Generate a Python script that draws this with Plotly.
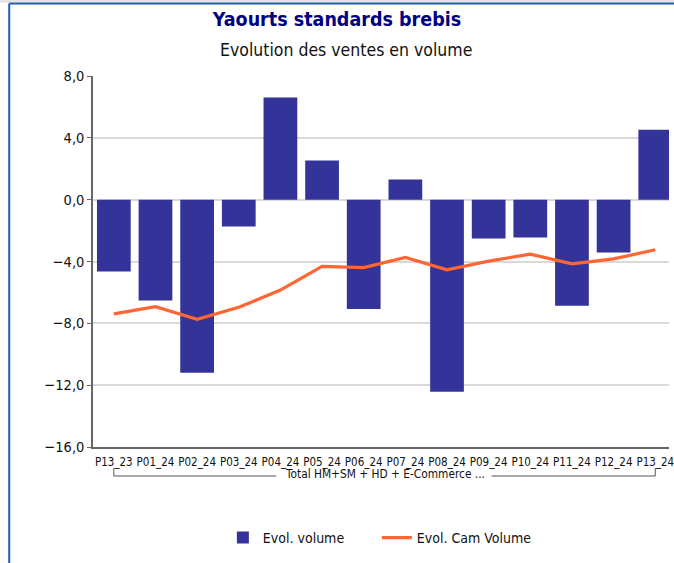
import plotly.graph_objects as go

categories = ["P13_23", "P01_24", "P02_24", "P03_24", "P04_24", "P05_24", "P06_24",
              "P07_24", "P08_24", "P09_24", "P10_24", "P11_24", "P12_24", "P13_24"]
evol_volume = [-4.65, -6.53, -11.2, -1.73, 6.61, 2.53, -7.07,
               1.30, -12.43, -2.51, -2.45, -6.86, -3.42, 4.52]
evol_cam_volume = [-7.39, -6.92, -7.74, -6.96, -5.85, -4.32, -4.39,
                   -3.74, -4.54, -3.98, -3.52, -4.15, -3.83, -3.24]
group_label = "Total HM+SM + HD + E-Commerce ..."
title_text = "Yaourts standards brebis"
subtitle_text = "Evolution des ventes en volume"
y_ticks = [-16, -12, -8, -4, 0, 4, 8]

FONT = "Tahoma, 'DejaVu Sans Condensed', 'Liberation Sans', sans-serif"

W, H = 674, 563
L, T, B = 93, 76, 116
plot_w = W - L
plot_h = H - T - B


def px_x(px):
    return (px - L) / plot_w


def px_y(py):
    return (H - B - py) / plot_h


fig = go.Figure()
fig.add_trace(go.Bar(
    x=list(range(len(categories))), y=evol_volume, name="Evol. volume",
    marker=dict(color="#333399", line=dict(width=0)),
))
fig.add_trace(go.Scatter(
    x=list(range(len(categories))), y=evol_cam_volume, name="Evol. Cam Volume",
    mode="lines", line=dict(color="#ff6633", width=3.2),
))

shapes = []
# light strip above the frame
shapes.append(dict(type="rect", xref="paper", yref="paper",
                   x0=px_x(-10), x1=px_x(700), y0=px_y(0), y1=px_y(2.5),
                   fillcolor="#e4e4e4", line=dict(width=0), layer="below"))
# outer chart frame (left + top, cut by the image edge)
shapes.append(dict(type="line", xref="paper", yref="paper",
                   x0=px_x(8.5), x1=px_x(8.5), y0=px_y(3.5), y1=px_y(600),
                   line=dict(color="#1f5fb0", width=2)))
shapes.append(dict(type="line", xref="paper", yref="paper",
                   x0=px_x(8.5), x1=px_x(700), y0=px_y(3.5), y1=px_y(3.5),
                   line=dict(color="#1f5fb0", width=2)))
# group bracket under category labels
yb = px_y(476)
yt = px_y(468)
shapes += [
    dict(type="line", xref="x", yref="paper", x0=0, x1=0, y0=yb, y1=yt,
         line=dict(color="#555555", width=1)),
    dict(type="line", xref="x", yref="paper", x0=0, x1=3.9, y0=yb, y1=yb,
         line=dict(color="#555555", width=1)),
    dict(type="line", xref="x", yref="paper", x0=9.07, x1=13, y0=yb, y1=yb,
         line=dict(color="#555555", width=1)),
    dict(type="line", xref="x", yref="paper", x0=13, x1=13, y0=yb, y1=yt,
         line=dict(color="#555555", width=1)),
]

annotations = [
    dict(text=subtitle_text, xref="paper", yref="paper", x=px_x(348), y=px_y(50),
         xanchor="center", yanchor="middle", showarrow=False,
         font=dict(family=FONT, size=17.5, color="#111111")),
    dict(text=group_label, xref="x", yref="paper", x=6.5, y=px_y(474.5),
         xanchor="center", yanchor="middle", showarrow=False,
         font=dict(family=FONT, size=11.8, color="#111111")),
]

fig.update_layout(
    width=W, height=H,
    margin=dict(l=L, r=0, t=T, b=B, pad=0),
    paper_bgcolor="white", plot_bgcolor="white",
    separators=", ",
    title=dict(text="<b>" + title_text + "</b>", x=337 / W,
               xref="container", xanchor="center", y=1 - 19.5 / H, yanchor="middle",
               font=dict(family=FONT, size=19.5, color="#000080")),
    bargap=0.19,
    showlegend=True,
    legend=dict(orientation="h", x=px_x(224), y=px_y(538), xanchor="left",
                yanchor="middle", font=dict(family=FONT, size=14, color="#111111"),
                itemwidth=30, entrywidth=109, entrywidthmode="pixels",
                tracegroupgap=0, bgcolor="rgba(0,0,0,0)"),
    shapes=shapes, annotations=annotations,
    font=dict(family=FONT, color="#111111"),
)
fig.update_xaxes(
    tickmode="array", tickvals=list(range(len(categories))), ticktext=categories,
    range=[-0.5, 13.33], showline=True, linecolor="#666666", linewidth=1.5,
    showgrid=False, zeroline=False, ticks="", tickangle=0,
    ticklabeloverflow="allow", ticklabelstandoff=3,
    tickfont=dict(family=FONT, size=11.5, color="#111111"),
)
fig.update_yaxes(
    range=[-16, 8], tickvals=y_ticks, tickformat=".1f",
    showline=True, linecolor="#666666", linewidth=1.5,
    showgrid=True, gridcolor="#d9d9d9", gridwidth=1.5, zeroline=False,
    ticks="outside", ticklen=4, tickcolor="#666666",
    tickfont=dict(family=FONT, size=14.5, color="#111111"),
)

fig.write_html(
    "out.html",
    config={"displayModeBar": False},
    post_script="document.documentElement.style.overflow='hidden';"
                "document.body.style.margin='0';document.body.style.overflow='hidden';",
)
